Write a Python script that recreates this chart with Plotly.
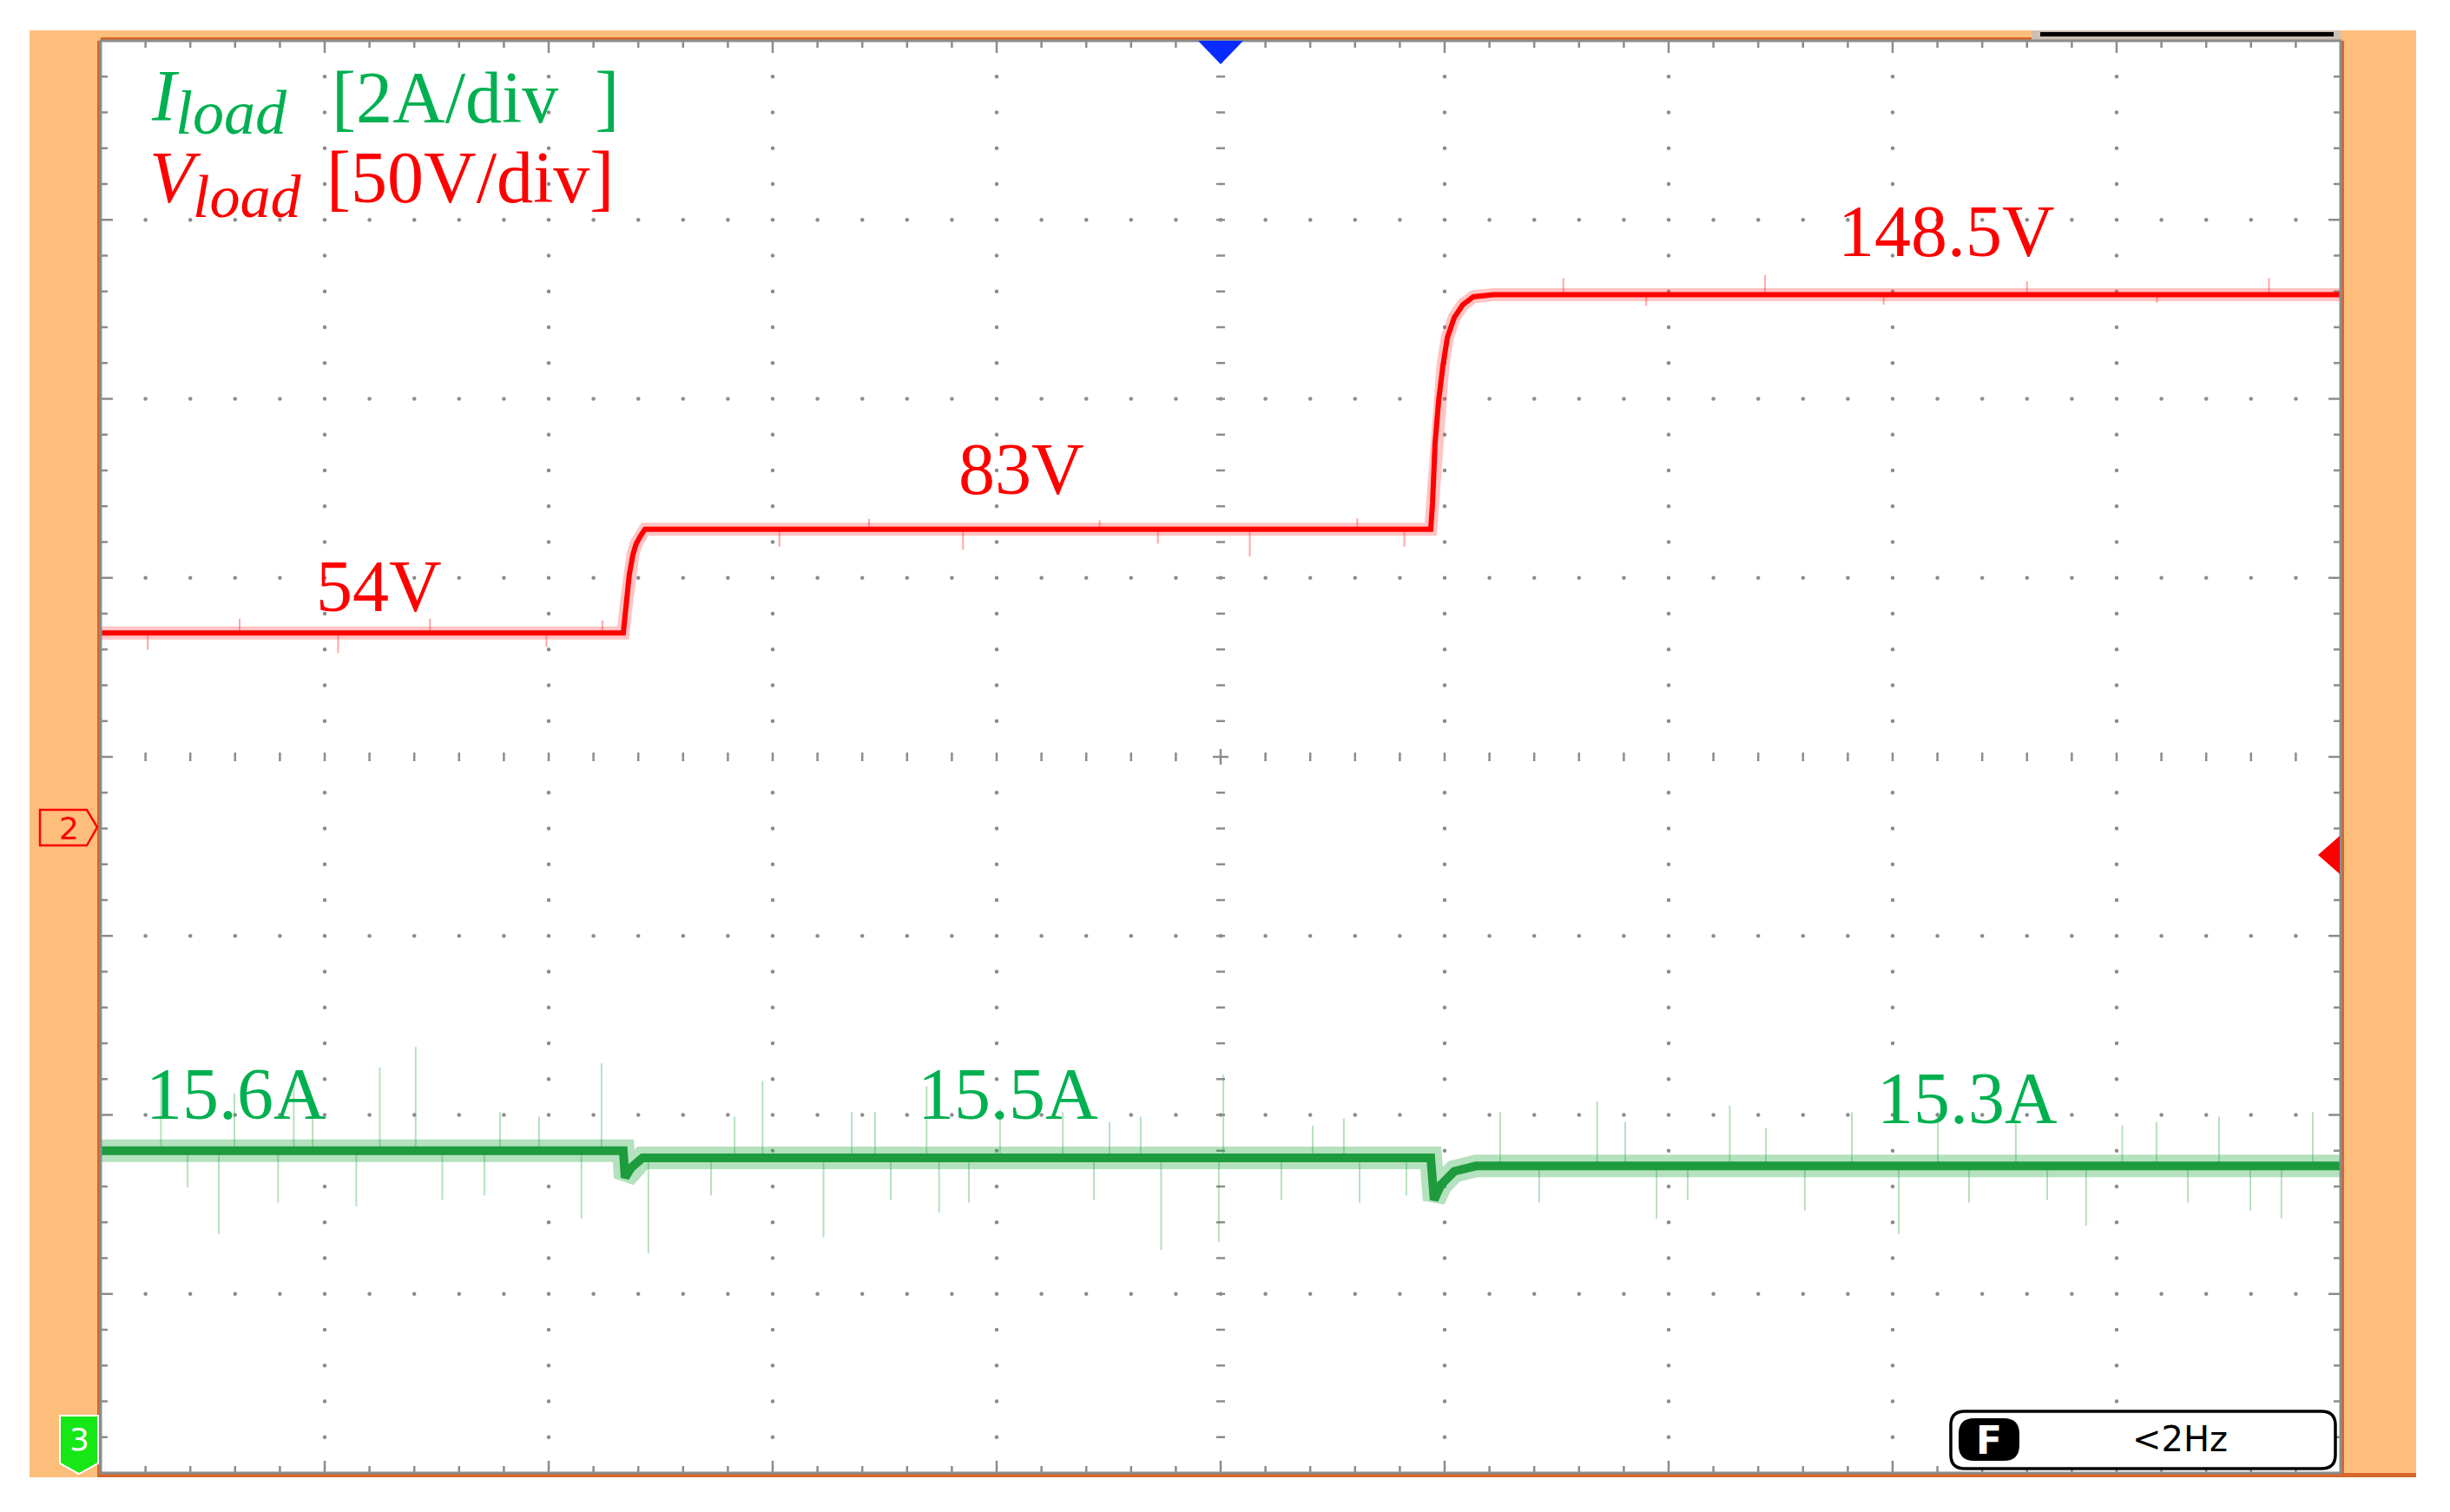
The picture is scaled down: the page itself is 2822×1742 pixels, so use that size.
import plotly.graph_objects as go

# ---------------- data (scope screen, time in divisions) ----------------
# Channel 2: load voltage [V], 50 V/div
v_t = [0.0, 2.333, 2.345, 2.360, 2.376, 2.391, 2.411, 2.430,
       5.938, 5.946, 5.957, 5.973, 5.992, 6.012, 6.043, 6.081, 6.128, 6.217, 10.0]
v_val = [54.0, 54.0, 61.3, 70.3, 75.9, 79.0, 81.2, 83.0,
         83.0, 90.4, 106.7, 118.8, 128.5, 136.5, 142.1, 145.7, 147.9, 148.5, 148.5]
v_spike_t = [0.21, 0.62, 1.06, 1.47, 1.99, 2.24, 3.03, 3.43, 3.85, 4.46, 4.72, 5.13, 5.61, 5.82,
             6.53, 6.90, 7.43, 7.96, 8.60, 9.18, 9.68]
v_spike_val = [49.3, 58.0, 48.4, 58.0, 50.2, 57.5, 78.1, 85.9, 77.2, 85.5, 79.0, 75.4, 86.0, 78.1,
               153.1, 145.3, 154.0, 145.7, 152.2, 146.2, 153.1]

# Channel 3: load current [A], 2 A/div
i_t = [0.0, 2.333, 2.341, 2.368, 2.419, 5.938, 5.953, 5.984, 6.043, 6.140, 10.0]
i_val = [15.60, 15.60, 15.30, 15.41, 15.52, 15.52, 15.05, 15.22, 15.37, 15.43, 15.43]
i_spike_t = [0.269, 0.388, 0.527, 0.597, 0.792, 0.862, 0.946, 1.141, 1.246, 1.406, 1.525, 1.713,
             1.783, 1.957, 2.146, 2.236, 2.445, 2.725, 2.830, 2.955, 3.227, 3.353, 3.457, 3.527,
             3.687, 3.743, 3.876, 4.015, 4.295, 4.434, 4.504, 4.643, 4.734, 4.992, 5.012, 5.271,
             5.411, 5.550, 5.620, 5.829, 6.248, 6.422, 6.681, 6.806, 6.946, 7.085, 7.273, 7.434,
             7.608, 7.818, 8.027, 8.202, 8.341, 8.550, 8.690, 8.864, 9.025, 9.178, 9.318, 9.457,
             9.597, 9.736, 9.876]
i_spike_val = [16.45, 15.19, 14.67, 16.24, 15.02, 16.42, 16.15, 14.98, 16.53, 16.76, 15.05, 15.10,
               16.03, 15.98, 14.84, 16.58, 14.45, 15.10, 15.98, 16.38, 14.63, 16.03, 16.03, 15.05,
               16.32, 14.91, 15.02, 16.07, 16.03, 15.05, 15.92, 15.98, 14.49, 14.58, 16.45, 15.05,
               15.88, 15.96, 15.02, 15.10, 16.03, 15.02, 16.15, 15.92, 14.84, 15.05, 16.10, 15.85,
               14.93, 16.03, 14.67, 16.03, 15.02, 15.92, 15.05, 14.76, 15.88, 15.92, 15.02, 15.98,
               14.93, 14.84, 16.03]

step_t = [2.333, 5.938]
v_levels = [54.0, 83.0, 148.5]
i_levels = [15.60, 15.52, 15.43]

labels_v = ["54V", "83V", "148.5V"]
labels_i = ["15.6A", "15.5A", "15.3A"]

# ---------------- geometry ----------------
W, H = 2822, 1742
L, R, T, B = 116, 2696, 47, 1697
PXX = (R - L) / 10.0
PXY = (B - T) / 8.0
GRID = "#8c8c8c"
ORANGE = "#fdbe7c"
DARKOR = "#d4672c"
RED = "#ff0000"
GREEN_TXT = "#00b050"
GREEN_TR = "#1e9b3c"


def pp(x, y):
    return (x - L) / (R - L), (B - y) / (B - T)


def path(points, close=True):
    s = ""
    for n, (x, y) in enumerate(points):
        px_, py_ = pp(x, y)
        s += ("M" if n == 0 else "L") + f"{px_:.5f},{py_:.5f} "
    return s + ("Z" if close else "")


def level(t, levels):
    k = sum(1 for s in step_t if t > s)
    return levels[k]


fig = go.Figure()

# ---------------- graticule ----------------
dx, dy = [], []
for j in [-3, -2, -1, 1, 2, 3]:
    for k in range(1, 50):
        dx.append(k * 0.2); dy.append(j)
for i in [1, 2, 3, 4, 6, 7, 8, 9]:
    for m in range(-19, 20):
        if m % 5 != 0:
            dx.append(i); dy.append(m * 0.2)
fig.add_trace(go.Scatter(x=dx, y=dy, mode="markers", hoverinfo="skip",
                         marker=dict(size=4.5, color=GRID), showlegend=False))

tx, ty = [], []
for k in range(1, 50):
    x = k * 0.2
    ln = (14 if k % 5 == 0 else 8) / PXY
    tx += [x, x, None, x, x, None]
    ty += [-4, -4 + ln, None, 4, 4 - ln, None]
    if k != 25:
        tx += [x, x, None]; ty += [-5 / PXY, 5 / PXY, None]
for m in range(-19, 20):
    y = m * 0.2
    ln = (14 if m % 5 == 0 else 8) / PXX
    tx += [0, ln, None, 10, 10 - ln, None]
    ty += [y, y, None, y, y, None]
    if m != 0:
        tx += [5 - 5 / PXX, 5 + 5 / PXX, None]; ty += [y, y, None]
tx += [5 - 9 / PXX, 5 + 9 / PXX, None, 5, 5, None]
ty += [0, 0, None, -9 / PXY, 9 / PXY, None]
fig.add_trace(go.Scatter(x=tx, y=ty, mode="lines", hoverinfo="skip",
                         line=dict(color=GRID, width=2.5), showlegend=False))

# ---------------- voltage (y2) ----------------
sx, sy = [], []
for t, v in zip(v_spike_t, v_spike_val):
    sx += [t, t, None]; sy += [level(t, v_levels), v, None]
fig.add_trace(go.Scatter(x=sx, y=sy, yaxis="y2", mode="lines", hoverinfo="skip",
                         line=dict(color="rgba(255,0,0,0.35)", width=2), showlegend=False))
fig.add_trace(go.Scatter(x=v_t, y=v_val, yaxis="y2", mode="lines", hoverinfo="skip",
                         line=dict(color="rgba(255,60,60,0.30)", width=15), showlegend=False))
fig.add_trace(go.Scatter(x=v_t, y=v_val, yaxis="y2", mode="lines", name="V_load",
                         line=dict(color=RED, width=6), showlegend=False))

# ---------------- current (y3) ----------------
sx, sy = [], []
for t, v in zip(i_spike_t, i_spike_val):
    sx += [t, t, None]; sy += [level(t, i_levels), v, None]
fig.add_trace(go.Scatter(x=sx, y=sy, yaxis="y3", mode="lines", hoverinfo="skip",
                         line=dict(color="rgba(40,170,70,0.35)", width=2), showlegend=False))
fig.add_trace(go.Scatter(x=i_t, y=i_val, yaxis="y3", mode="lines", hoverinfo="skip",
                         line=dict(color="rgba(40,170,70,0.35)", width=26), showlegend=False))
fig.add_trace(go.Scatter(x=i_t, y=i_val, yaxis="y3", mode="lines", name="I_load",
                         line=dict(color=GREEN_TR, width=10), showlegend=False))

# ---------------- frame shapes ----------------
shapes = []


def rect(x0, y0, x1, y1, color):
    shapes.append(dict(type="path", xref="paper", yref="paper",
                       path=path([(x0, y0), (x1, y0), (x1, y1), (x0, y1)]),
                       fillcolor=color, line=dict(width=0), layer="above"))


rect(34, 35, L, 1702, ORANGE)
rect(R, 35, 2783, 1702, ORANGE)
rect(34, 35, 2340, T, ORANGE)
rect(L, 1697, 2783, 1702, DARKOR)
rect(112, 47, L, 1702, DARKOR)
rect(R, 47, R + 4, 1702, DARKOR)
rect(L, 43, 2340, T, DARKOR)
rect(2340, 35, R, T, "#cdbfb2")
rect(2350, 37, 2688, 42, "#000000")

# plot border
shapes.append(dict(type="path", xref="paper", yref="paper",
                   path=path([(L, T), (R, T), (R, B), (L, B)]),
                   line=dict(color=GRID, width=3), layer="above"))

# blue trigger-position marker
shapes.append(dict(type="path", xref="paper", yref="paper",
                   path=path([(1380, T), (1432, T), (1406, 74)]),
                   fillcolor="#0a2bff", line=dict(width=0), layer="above"))
# red trigger-level marker
shapes.append(dict(type="path", xref="paper", yref="paper",
                   path=path([(R - 1, 963), (R - 1, 1007), (2670, 985)]),
                   fillcolor=RED, line=dict(width=0), layer="above"))
# channel 2 tag
shapes.append(dict(type="path", xref="paper", yref="paper",
                   path=path([(46, 933), (100, 933), (112, 953), (100, 974), (46, 974)]),
                   line=dict(color=RED, width=2.5), layer="above"))
# channel 3 tag
shapes.append(dict(type="path", xref="paper", yref="paper",
                   path=path([(69, 1631), (113, 1631), (113, 1686), (91, 1698), (69, 1686)]),
                   fillcolor="#17e617", line=dict(color="white", width=2), layer="above"))


def rounded(x0, y0, x1, y1, r):
    def P(x, y):
        a, b = pp(x, y)
        return f"{a:.5f},{b:.5f}"
    s = "M" + P(x0 + r, y0) + " L" + P(x1 - r, y0) + " Q" + P(x1, y0) + " " + P(x1, y0 + r)
    s += " L" + P(x1, y1 - r) + " Q" + P(x1, y1) + " " + P(x1 - r, y1)
    s += " L" + P(x0 + r, y1) + " Q" + P(x0, y1) + " " + P(x0, y1 - r)
    s += " L" + P(x0, y0 + r) + " Q" + P(x0, y0) + " " + P(x0 + r, y0) + " Z"
    return s


shapes.append(dict(type="path", xref="paper", yref="paper", path=rounded(2247, 1626, 2690, 1692, 16),
                   fillcolor="white", line=dict(color="black", width=3.5), layer="above"))
shapes.append(dict(type="path", xref="paper", yref="paper", path=rounded(2256, 1634, 2326, 1683, 18),
                   fillcolor="black", line=dict(width=0), layer="above"))

# ---------------- annotations ----------------
ann = []


def text(x, y, s, color, size, family="Liberation Serif", xanchor="center", yanchor="middle"):
    a, b = pp(x, y)
    ann.append(dict(x=a, y=b, xref="paper", yref="paper", text=s, showarrow=False,
                    xanchor=xanchor, yanchor=yanchor,
                    font=dict(family=family, size=size, color=color)))


FS = 84
text(172, 110, "<i>I</i>", GREEN_TXT, FS, xanchor="left")
text(200, 130, "<i>load</i>", GREEN_TXT, 72, xanchor="left")
text(380, 112, "[2A/div  ]", GREEN_TXT, FS, xanchor="left")
text(170, 205, "<i>V</i>", RED, FS, xanchor="left")
text(220, 226, "<i>load</i>", RED, 70, xanchor="left")
text(374, 205, "[50V/div]", RED, FS, xanchor="left")

for s, (x, y) in zip(labels_v, [(436, 675), (1176, 540), (2242, 267)]):
    text(x, y, s, RED, FS)
for s, (x, y) in zip(labels_i, [(272, 1260), (1161, 1260), (2266, 1265)]):
    text(x, y, s, GREEN_TXT, FS)

text(79, 954, "2", RED, 36, family="DejaVu Sans")
text(91, 1658, "3", "white", 36, family="DejaVu Sans")
text(2291, 1659, "<b>F</b>", "white", 44, family="DejaVu Sans")
text(2511, 1658, "&lt;2Hz", "black", 40, family="DejaVu Sans")

fig.update_layout(
    width=W, height=H, autosize=False,
    margin=dict(l=L, r=W - R, t=T, b=H - B, pad=0),
    paper_bgcolor="white", plot_bgcolor="white",
    xaxis=dict(range=[0, 10], showgrid=False, zeroline=False, showticklabels=False,
               ticks="", fixedrange=True),
    yaxis=dict(range=[-4, 4], showgrid=False, zeroline=False, showticklabels=False,
               ticks="", fixedrange=True),
    yaxis2=dict(range=[-180.6, 219.4], overlaying="y", visible=False, fixedrange=True),
    yaxis3=dict(range=[12, 28], overlaying="y", visible=False, fixedrange=True),
    shapes=shapes, annotations=ann, showlegend=False,
)

fig.write_html("out.html", config={"displayModeBar": False},
               post_script="document.body.style.margin='0';document.body.style.overflow='hidden';")
